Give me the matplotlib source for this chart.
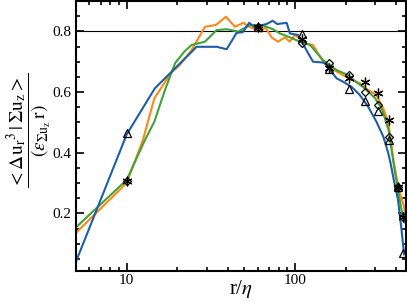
import numpy as np
import matplotlib
matplotlib.use("Agg")
import matplotlib.pyplot as plt
from matplotlib.ticker import FixedLocator, NullFormatter, MultipleLocator

plt.rcParams['font.family'] = ['Liberation Serif', 'DejaVu Serif']
plt.rcParams['mathtext.fontset'] = 'stix'

# blue curve
x_blue = [5.0, 10, 14.7, 24.9, 26, 34.3, 39.3, 45, 48.9, 53.5, 57.1, 67.9, 73.7, 78.5, 89.3,
          93.3, 104.5, 117, 128, 147, 155, 161, 177, 193, 217, 243, 272, 305, 335, 358, 370,
          390, 410, 430, 445]
y_blue = [0.041, 0.46, 0.612, 0.738, 0.749, 0.749, 0.741, 0.795, 0.797, 0.828, 0.815, 0.824,
          0.835, 0.824, 0.828, 0.793, 0.788, 0.738, 0.70, 0.697, 0.689, 0.673, 0.645, 0.634,
          0.617, 0.59, 0.552, 0.502, 0.453, 0.40, 0.365, 0.30, 0.244, 0.145, 0.065]

# orange curve
x_orange = [5.0, 10, 12.5, 14.6, 18.3, 20.7, 24.3, 29.2, 33.9, 38.9, 44, 49.3, 53.5, 63.5,
            66.5, 72.6, 79.4, 87.2, 93.2, 100, 117, 128, 147, 177, 193, 217, 243, 272, 305,
            335, 358, 367, 385, 410, 445, 455]
y_orange = [0.136, 0.30, 0.442, 0.579, 0.662, 0.689, 0.738, 0.815, 0.821, 0.848, 0.815, 0.828,
            0.815, 0.799, 0.815, 0.78, 0.766, 0.78, 0.766, 0.788, 0.76, 0.755, 0.70, 0.667,
            0.656, 0.64, 0.629, 0.607, 0.59, 0.546, 0.502, 0.464, 0.376, 0.288, 0.222, 0.18]

# green curve
x_green = [5.0, 10, 12.8, 14.6, 16.9, 19.4, 22.0, 24.3, 29.2, 34.2, 39.3, 46, 54.2, 63.5,
           74.1, 81.4, 93.4, 107, 123, 147, 177, 207, 230, 260, 300, 330, 360, 391, 430, 450]
y_green = [0.154, 0.31, 0.44, 0.502, 0.607, 0.695, 0.733, 0.755, 0.766, 0.804, 0.807, 0.799,
           0.821, 0.821, 0.807, 0.793, 0.78, 0.766, 0.755, 0.705, 0.672, 0.656, 0.634, 0.612,
           0.579, 0.541, 0.475, 0.343, 0.211, 0.17]

# markers
x_mark = [10, 60, 110, 160, 210, 260, 310, 360, 410, 440]
y_tri = [0.465, 0.815, 0.79, 0.675, 0.609, 0.571, 0.538, 0.442, 0.288, 0.068]
y_star = [0.307, 0.815, 0.775, 0.68, 0.645, 0.634, 0.598, 0.508, 0.288, 0.187]
y_diam = [0.307, 0.815, 0.762, 0.695, 0.655, 0.60, 0.557, 0.451, 0.288, 0.187]

fig = plt.figure(figsize=(4.07, 3.02), dpi=100)
ax = fig.add_axes([76 / 407, 31 / 302, 330 / 407, 270 / 302])

ax.axhline(0.8, color='black', lw=0.8, zorder=1)
ax.plot(x_orange, y_orange, color='#ff8717', lw=1.5)
ax.plot(x_green, y_green, color='#3ea436', lw=1.5)
ax.plot(x_blue, y_blue, color='#1d5ea8', lw=1.5)

ax.plot(x_mark, y_tri, '^', mfc='none', mec='black', ms=6, mew=0.9, ls='none')
ax.plot(x_mark, y_star, marker=(6, 2, 0), color='black', ms=7, mew=0.9, ls='none')
ax.plot(x_mark, y_diam, 'D', mfc='none', mec='black', ms=4.5, mew=0.9, ls='none')

ax.set_xscale('log')
ax.set_xlim(5.0, 457)
ax.set_ylim(0.01, 0.9)

ax.xaxis.set_major_locator(FixedLocator([10, 100]))
ax.set_xticklabels(['10', '100'])
ax.xaxis.set_minor_locator(FixedLocator([6, 7, 8, 9, 20, 30, 40, 50, 60, 70, 80, 90, 200, 300, 400]))
ax.xaxis.set_minor_formatter(NullFormatter())
ax.yaxis.set_major_locator(FixedLocator([0.2, 0.4, 0.6, 0.8]))
ax.set_yticklabels(['0.2', '0.4', '0.6', '0.8'])
ax.yaxis.set_minor_locator(MultipleLocator(0.05))

ax.tick_params(which='both', direction='in', top=True, right=True, labelsize=11, width=1.2)
ax.tick_params(which='major', length=6)
ax.tick_params(which='minor', length=3)
ax.tick_params(axis='x', pad=2)
for s in ax.spines.values():
    s.set_linewidth(1.5)

ax.set_xlabel(r'r/$\eta$', fontsize=15)
ax.xaxis.set_label_coords(0.5, -0.025)

fig.text(29 / 407, 1 - 130 / 302,
         r'$\dfrac{<\Delta \mathrm{u_r}^3\,|\,\Sigma \mathrm{u_z}>}{(\epsilon_{\Sigma \mathrm{u_z}}\,\mathrm{r})}$',
         fontsize=14, rotation=90, ha='center', va='center')

fig.savefig('out.png', dpi=100)
